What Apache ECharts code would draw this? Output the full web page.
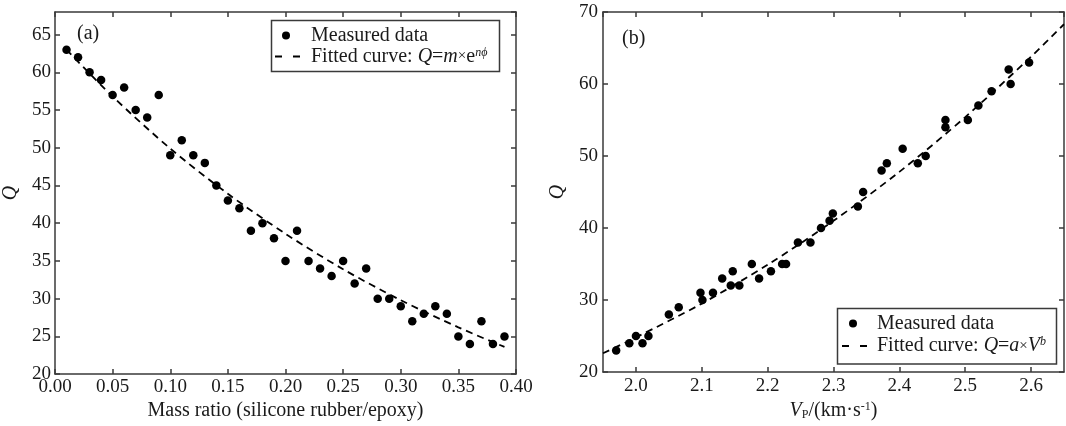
<!DOCTYPE html>
<html><head><meta charset="utf-8">
<script src="https://cdn.jsdelivr.net/npm/echarts@6/dist/echarts.min.js"></script>
<style>html,body{margin:0;padding:0;background:#fff}#c{width:1066px;height:426px}</style>
</head><body><div id="c"></div>
<script>
// Panel (a): Q vs mass ratio
const massRatio = [0.01,0.02,0.03,0.04,0.05,0.06,0.07,0.08,0.09,0.10,0.11,0.12,0.13,0.14,0.15,0.16,0.17,0.18,0.19,0.20,0.21,0.22,0.23,0.24,0.25,0.26,0.27,0.28,0.29,0.30,0.31,0.32,0.33,0.34,0.35,0.36,0.37,0.38,0.39];
const qMass = [63,62,60,59,57,58,55,54,57,49,51,49,48,45,43,42,39,40,38,35,39,35,34,33,35,32,34,30,30,29,27,28,29,28,25,24,27,24,25];
const fitMassX = [0.01,0.05,0.10,0.15,0.20,0.25,0.30,0.35,0.39];
const fitMassQ = [63.0,56.8,49.9,43.9,38.6,33.9,29.8,26.2,23.6];
const massTicks = {min:0, max:0.40, interval:0.05};
const qTicksA = {min:20, max:68, interval:5};

// Panel (b): Q vs Vp
const vp = [1.970,1.990,2.000,2.010,2.019,2.050,2.065,2.098,2.101,2.117,2.131,2.144,2.147,2.157,2.176,2.187,2.205,2.222,2.228,2.246,2.265,2.281,2.294,2.299,2.337,2.345,2.373,2.381,2.405,2.428,2.440,2.470,2.470,2.504,2.520,2.540,2.566,2.569,2.597];
const qVp = [23,24,25,24,25,28,29,31,30,31,33,32,34,32,35,33,34,35,35,38,38,40,41,42,43,45,48,49,51,49,50,55,54,55,57,59,62,60,63];
const fitVpX = [1.95,2.00,2.10,2.20,2.30,2.40,2.50,2.60,2.65];
const fitVpQ = [22.6,24.8,29.5,34.9,41.0,47.8,55.4,63.8,68.3];
const vpTicks = {min:1.95, max:2.65};
const qTicksB = {min:20, max:70, interval:10};

const FONT = 'Liberation Serif';
const TXT = '#1a1a1a';
const FRAME = '#3a3a3a';
const zip = (a,b) => a.map((v,i)=>[v,b[i]]);

const rich = {
  i:{fontFamily:FONT,fontStyle:'italic',fontSize:20,color:TXT},
  n:{fontFamily:FONT,fontSize:20,color:TXT},
  x:{fontFamily:FONT,fontSize:15,color:TXT},
  sup:{fontFamily:FONT,fontStyle:'italic',fontSize:12,color:TXT,verticalAlign:'top'},
  supn:{fontFamily:FONT,fontSize:12,color:TXT,verticalAlign:'top'},
  sub:{fontFamily:FONT,fontSize:12,color:TXT,verticalAlign:'bottom'}
};

function baseAxis(extra){
  return Object.assign({
    type:'value',
    axisLine:{show:true,onZero:false,lineStyle:{color:FRAME,width:1.5}},
    axisTick:{show:true,inside:true,length:5,lineStyle:{color:FRAME,width:1.5}},
    splitLine:{show:false},
    axisLabel:{show:true,fontFamily:FONT,fontSize:19,color:TXT,margin:3},
    nameTextStyle:{fontFamily:FONT,fontSize:20,color:TXT,rich:rich}
  }, extra);
}
function hiddenLabels(ax){ ax.axisLabel = {show:false}; return ax; }

const option = {
  backgroundColor:'#fff',
  animation:false,
  grid:[
    {left:54, top:12, width:462, height:364},
    {left:603, top:12, width:461, height:360}
  ],
  xAxis:[
    baseAxis({gridIndex:0, position:'bottom', min:massTicks.min, max:massTicks.max, interval:massTicks.interval,
      axisLabel:{fontFamily:FONT,fontSize:19,color:TXT,margin:3,formatter:v=>v.toFixed(2)},
      name:'Mass ratio (silicone rubber/epoxy)', nameLocation:'middle', nameGap:25}),
    hiddenLabels(baseAxis({gridIndex:0, position:'top', min:massTicks.min, max:massTicks.max, interval:massTicks.interval})),
    baseAxis({gridIndex:1, position:'bottom', min:vpTicks.min, max:vpTicks.max, splitNumber:7,
      axisLabel:{fontFamily:FONT,fontSize:19,color:TXT,margin:5,showMinLabel:false,showMaxLabel:false,formatter:v=>v.toFixed(1)},
      name:'{i|V}{sub|P}/(km·s{supn|-1})', nameLocation:'middle', nameGap:25}),
    hiddenLabels(baseAxis({gridIndex:1, position:'top', min:vpTicks.min, max:vpTicks.max, splitNumber:7}))
  ],
  yAxis:[
    baseAxis({gridIndex:0, position:'left', min:qTicksA.min, max:qTicksA.max, interval:qTicksA.interval,
      axisLabel:{fontFamily:FONT,fontSize:19,color:TXT,margin:4,showMaxLabel:false},
      name:'Q', nameLocation:'middle', nameGap:34, nameTextStyle:{fontFamily:FONT,fontSize:20,fontStyle:'italic',color:TXT}}),
    hiddenLabels(baseAxis({gridIndex:0, position:'right', min:qTicksA.min, max:qTicksA.max, interval:qTicksA.interval})),
    baseAxis({gridIndex:1, position:'left', min:qTicksB.min, max:qTicksB.max, interval:qTicksB.interval,
      axisLabel:{fontFamily:FONT,fontSize:19,color:TXT,margin:5},
      name:'Q', nameLocation:'middle', nameGap:35, nameTextStyle:{fontFamily:FONT,fontSize:20,fontStyle:'italic',color:TXT}}),
    hiddenLabels(baseAxis({gridIndex:1, position:'right', min:qTicksB.min, max:qTicksB.max, interval:qTicksB.interval}))
  ],
  series:[
    {name:'Fitted curve (a)', type:'line', xAxisIndex:0, yAxisIndex:0, data:zip(fitMassX,fitMassQ), smooth:0.3,
      showSymbol:false, lineStyle:{color:'#000',width:1.8,type:[7,5]}, z:3},
    {name:'Measured data (a)', type:'scatter', xAxisIndex:0, yAxisIndex:0, data:zip(massRatio,qMass),
      symbol:'circle', symbolSize:8.5, itemStyle:{color:'#000',opacity:1}, z:4},
    {name:'Fitted curve (b)', type:'line', xAxisIndex:2, yAxisIndex:2, data:zip(fitVpX,fitVpQ), smooth:0.3,
      showSymbol:false, lineStyle:{color:'#000',width:1.8,type:[7,5]}, z:3},
    {name:'Measured data (b)', type:'scatter', xAxisIndex:2, yAxisIndex:2, data:zip(vp,qVp),
      symbol:'circle', symbolSize:8.5, itemStyle:{color:'#000',opacity:1}, z:4}
  ],
  graphic:[
    {type:'text', left:77, top:24, z:10, style:{text:'(a)', fontFamily:FONT, fontSize:20, fill:TXT}},
    {type:'text', left:622, top:29, z:10, style:{text:'(b)', fontFamily:FONT, fontSize:20, fill:TXT}},
    // legend (a)
    {type:'rect', z:10, shape:{x:271.5,y:20.5,width:228,height:51}, style:{fill:'#fff',stroke:FRAME,lineWidth:1.5}},
    {type:'circle', z:11, shape:{cx:286,cy:35.5,r:4}, style:{fill:'#000'}},
    {type:'line', z:11, shape:{x1:275,y1:56.5,x2:300,y2:56.5}, style:{stroke:'#000',lineWidth:1.8,lineDash:[7,11]}},
    {type:'text', z:11, x:311, y:35.5, style:{text:'Measured data', fontFamily:FONT, fontSize:20, fill:TXT, verticalAlign:'middle'}},
    {type:'text', z:11, x:311, y:56.5, style:{text:'Fitted curve: {i|Q}={i|m}{x|×}e{sup|nϕ}', fontFamily:FONT, fontSize:20, fill:TXT, verticalAlign:'middle', rich:rich}},
    // legend (b)
    {type:'rect', z:10, shape:{x:837.5,y:308.5,width:219,height:55.5}, style:{fill:'#fff',stroke:FRAME,lineWidth:1.5}},
    {type:'circle', z:11, shape:{cx:853,cy:323.5,r:4}, style:{fill:'#000'}},
    {type:'line', z:11, shape:{x1:842,y1:346,x2:867,y2:346}, style:{stroke:'#000',lineWidth:1.8,lineDash:[7,11]}},
    {type:'text', z:11, x:877, y:323.5, style:{text:'Measured data', fontFamily:FONT, fontSize:20, fill:TXT, verticalAlign:'middle'}},
    {type:'text', z:11, x:877, y:346, style:{text:'Fitted curve: {i|Q}={i|a}{x|×}{i|V}{sup|b}', fontFamily:FONT, fontSize:20, fill:TXT, verticalAlign:'middle', rich:rich}}
  ]
};
const chart = echarts.init(document.getElementById('c'), null, {renderer:'canvas'});
chart.setOption(option);
</script>
</body></html>
